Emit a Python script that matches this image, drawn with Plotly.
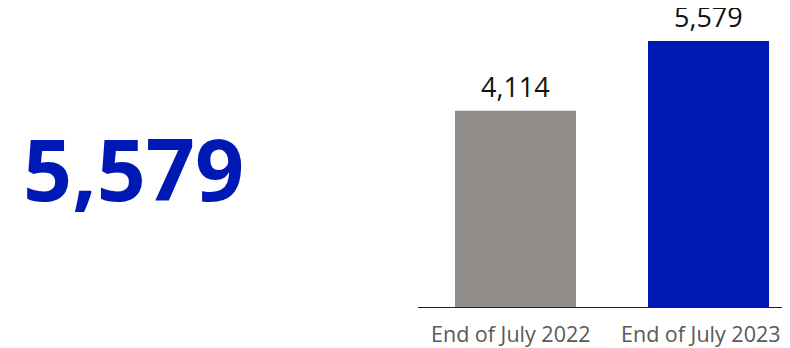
import plotly.graph_objects as go

categories = ["End of July 2022", "End of July 2023"]
values = [4114, 5579]
bar_colors = ["#928E8C", "#0019B4"]
value_labels = ["4,114", "5,579"]
headline = "5,579"

fig = go.Figure()
fig.add_trace(go.Bar(
    x=categories,
    y=values,
    marker=dict(color=bar_colors, line=dict(width=0)),
    width=0.627,
    cliponaxis=False,
    hoverinfo="skip",
))

for cat, val, lab in zip(categories, values, value_labels):
    fig.add_annotation(
        x=cat, y=val, xref="x", yref="y",
        text=lab, showarrow=False,
        xanchor="center", yanchor="bottom", yshift=4,
        font=dict(family="Open Sans", size=27, color="#111111"),
    )

# category labels under the axis
for cat, dx in zip(categories, [-4.5, -7.5]):
    fig.add_annotation(
        x=cat, y=0, xref="x", yref="paper",
        text=cat, showarrow=False,
        xanchor="center", yanchor="top", yshift=-10, xshift=dx,
        font=dict(family="Open Sans", size=21.5, color="#595959"),
    )

fig.add_annotation(
    text="<b>" + headline + "</b>",
    xref="paper", yref="paper",
    x=-0.766, y=0.468,
    xanchor="center", yanchor="middle",
    showarrow=False,
    font=dict(family="Open Sans", size=86, color="#0019B4"),
)

fig.update_layout(
    width=782, height=340,
    margin=dict(l=410, r=0, t=0, b=41, autoexpand=False),
    paper_bgcolor="white",
    plot_bgcolor="white",
    showlegend=False,
    xaxis=dict(
        type="category",
        range=[-0.505, 1.422],
        showline=True, linecolor="#222222", linewidth=1,
        showgrid=False, ticks="",
        showticklabels=False,
    ),
    yaxis=dict(
        range=[0, 6271],
        visible=False, showgrid=False, zeroline=False,
    ),
)

fig.write_html("out.html")
